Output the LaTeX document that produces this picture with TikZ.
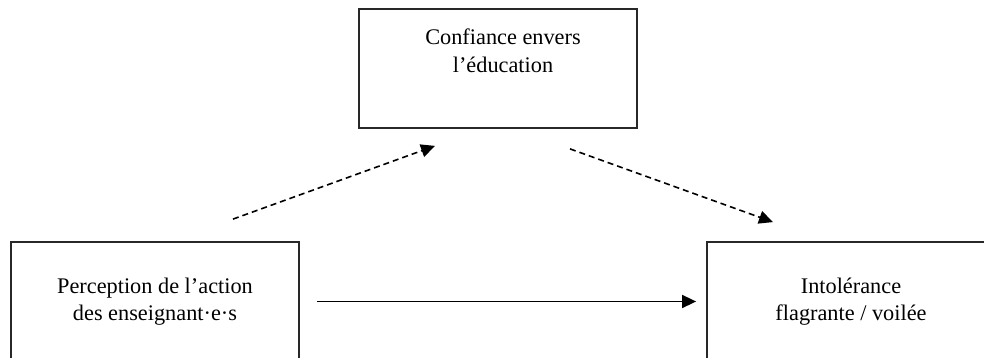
\documentclass[tikz,border=0pt]{standalone}
\usepackage{fontspec}
\setmainfont{Liberation Serif}
\usepackage{tikz}
\usetikzlibrary{arrows.meta,positioning}
\usepackage{xcolor}
\definecolor{dfgray}{RGB}{40,40,40}
\tikzstyle{box} = [rectangle, draw=dfgray, line width=1.8pt, minimum width=288pt, minimum height=119pt, align=center, font=\fontsize{22.3}{27}\selectfont]
\tikzstyle{boxtext} = [align=center, font=\fontsize{22.3}{28}\selectfont]
\tikzstyle{arrow} = [line width=1.6pt, -{Triangle[length=14pt,width=13pt]}]
\tikzstyle{dasharrow} = [arrow, dash pattern=on 6pt off 4pt]

\begin{document}
\begin{tikzpicture}[x=1pt, y=1pt]
\useasboundingbox (0,0) rectangle (984,358);
\clip (0,0) rectangle (984,358);

% Boxes
\node[box] (percep) at (155,56.5) {Perception de l'action\\des enseignant·e·s};
\node[box, minimum width=278pt] (conf) at (498,289.5) {};
\node[boxtext] (conftext) at (503,307) {Confiance envers\\l'éducation};
\node[box] (intol) at (851,56.5) {Intolérance\\flagrante / voilée};

% Direct effect
\draw[arrow, shorten <=17pt, shorten >=10pt] (percep) -- (intol);

% Indirect effect
\draw[dasharrow] ([shift={(78,22)}]percep.north) -- ([shift={(-63,-17)}]conf.south);
\draw[dasharrow] ([shift={(72,-20)}]conf.south) -- ([shift={(-78,19)}]intol.north);
\end{tikzpicture}
\end{document}
